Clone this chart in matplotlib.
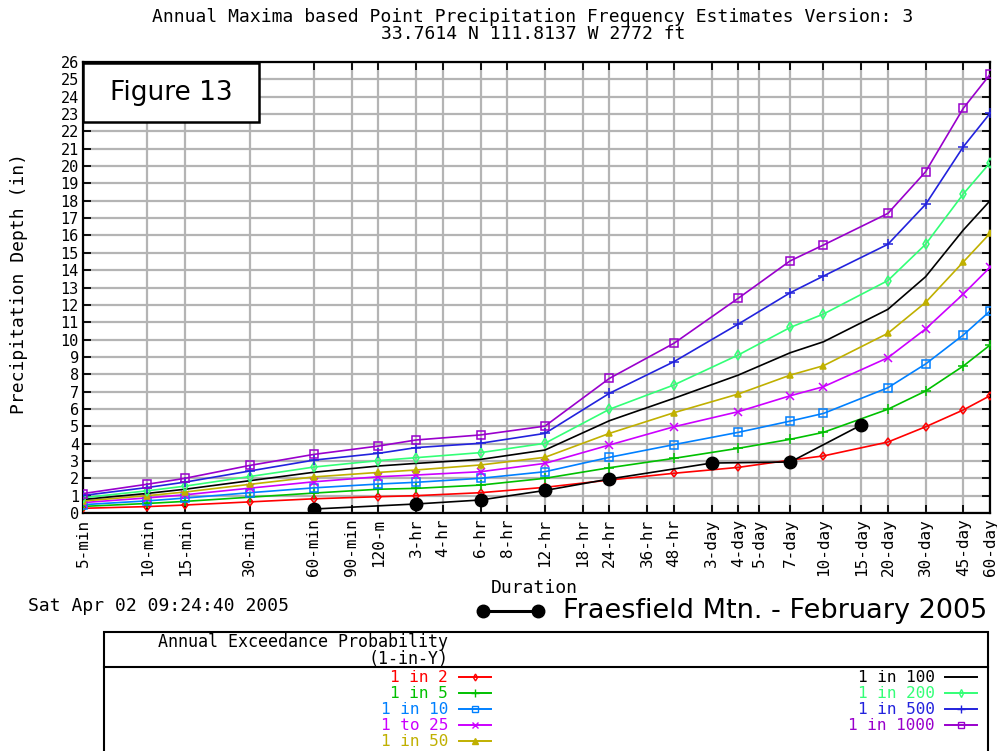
import matplotlib
matplotlib.use("Agg")
import matplotlib.pyplot as plt
from matplotlib.lines import Line2D
from matplotlib.patches import Rectangle

# ---------------- data ----------------
dur_minutes = [5, 10, 15, 30, 60, 120, 180, 360, 720, 1440,
               2880, 5760, 10080, 14400, 28800, 43200, 64800, 86400]

tick_minutes = [5, 10, 15, 30, 60, 90, 120, 180, 240, 360, 480, 720, 1080, 1440,
                2160, 2880, 4320, 5760, 7200, 10080, 14400, 21600, 28800, 43200,
                64800, 86400]
tick_labels = ["5-min", "10-min", "15-min", "30-min", "60-min", "90-min", "120-m",
               "3-hr", "4-hr", "6-hr", "8-hr", "12-hr", "18-hr", "24-hr", "36-hr",
               "48-hr", "3-day", "4-day", "5-day", "7-day", "10-day", "15-day",
               "20-day", "30-day", "45-day", "60-day"]

series_names = ["1 in 2", "1 in 5", "1 in 10", "1 to 25", "1 in 50",
                "1 in 100", "1 in 200", "1 in 500", "1 in 1000"]

p2 = [0.27, 0.37, 0.46, 0.64, 0.82, 0.94, 1.00, 1.17, 1.48, 1.90,
      2.29, 2.63, 3.05, 3.29, 4.09, 4.97, 5.94, 6.76]
p5 = [0.38, 0.55, 0.67, 0.91, 1.15, 1.37, 1.42, 1.61, 2.00, 2.61,
      3.15, 3.73, 4.25, 4.65, 5.98, 7.03, 8.47, 9.68]
p10 = [0.48, 0.70, 0.86, 1.17, 1.45, 1.67, 1.77, 2.00, 2.38, 3.21,
       3.94, 4.65, 5.30, 5.74, 7.22, 8.59, 10.26, 11.64]
p25 = [0.60, 0.87, 1.05, 1.43, 1.80, 2.09, 2.19, 2.38, 2.86, 3.92,
       4.97, 5.84, 6.76, 7.28, 8.95, 10.61, 12.62, 14.16]
p50 = [0.69, 1.00, 1.21, 1.65, 2.08, 2.34, 2.48, 2.77, 3.21, 4.59,
       5.78, 6.86, 7.95, 8.49, 10.36, 12.14, 14.47, 16.12]
p100 = [0.78, 1.13, 1.37, 1.86, 2.35, 2.71, 2.86, 3.09, 3.63, 5.32,
        6.61, 7.95, 9.24, 9.87, 11.74, 13.62, 16.31, 18.00]
p200 = [0.88, 1.28, 1.55, 2.10, 2.65, 3.02, 3.19, 3.48, 4.02, 5.98,
        7.38, 9.11, 10.70, 11.47, 13.40, 15.49, 18.39, 20.19]
p500 = [1.01, 1.47, 1.78, 2.42, 3.05, 3.44, 3.77, 4.02, 4.59, 6.90,
        8.72, 10.89, 12.70, 13.66, 15.49, 17.79, 21.11, 23.04]
p1000 = [1.12, 1.66, 2.00, 2.74, 3.38, 3.86, 4.21, 4.50, 5.01, 7.76,
         9.78, 12.38, 14.54, 15.45, 17.27, 19.67, 23.33, 25.28]

obs_minutes = [60, 180, 360, 720, 1440, 4320, 10080, 21600]
obs_values = [0.23, 0.52, 0.75, 1.30, 1.96, 2.88, 2.94, 5.07]

series_values = [p2, p5, p10, p25, p50, p100, p200, p500, p1000]
colors = ["#ff0000", "#00c000", "#0080ff", "#cc00ff", "#c0b000",
          "#000000", "#33ff77", "#2222dd", "#9900cc"]
markers = ["d", "+", "s", "x", "^", None, "d", "+", "s"]
msizes = [4.5, 7, 5.5, 6, 5, 0, 5, 7, 6]
fills = ["none", "full", "none", "full", "full", "none", "none", "full", "none"]

# ---------------- figure ----------------
W, H = 997, 751
fig = plt.figure(figsize=(W / 100, H / 100), dpi=100)
fx = lambda px: px / W
fy = lambda py: 1 - py / H

ax = fig.add_axes([fx(83), fy(513), fx(990) - fx(83), fy(62) - fy(513)])
mono = "DejaVu Sans Mono"

for vals, c, m, ms, fs in zip(series_values, colors, markers, msizes, fills):
    ax.plot(dur_minutes, vals, color=c, lw=1.2, marker=m, ms=ms,
            fillstyle=fs, mew=1.1, zorder=3)

ax.plot(obs_minutes, obs_values, color="black", lw=1.2, marker="o", ms=9,
        zorder=4)

ax.set_xscale("log")
ax.set_xlim(5, 86400)
ax.set_ylim(0, 26)
ax.set_xticks(tick_minutes)
ax.set_xticklabels(tick_labels, rotation=90, fontfamily=mono, fontsize=11.5)
ax.xaxis.set_minor_locator(matplotlib.ticker.NullLocator())
ax.set_yticks(range(0, 27))
ax.set_yticklabels([str(v) for v in range(0, 27)], fontfamily=mono, fontsize=11)
ax.tick_params(axis="both", direction="in", length=6, width=1.3,
               top=True, right=True, pad=4)
ax.tick_params(axis="y", pad=3)
ax.grid(True, which="major", color="#b4b4b4", lw=1.6, zorder=1)
ax.set_axisbelow(True)
for s in ax.spines.values():
    s.set_linewidth(1.6)

# titles and axis labels
fig.text(fx(533), fy(17), "Annual Maxima based Point Precipitation Frequency Estimates Version: 3",
         ha="center", va="center", fontfamily=mono, fontsize=13)
fig.text(fx(533), fy(34), "33.7614 N 111.8137 W 2772 ft",
         ha="center", va="center", fontfamily=mono, fontsize=13)
fig.text(fx(19), fy(283), "Precipitation Depth (in)", rotation=90,
         ha="center", va="center", fontfamily=mono, fontsize=13)
fig.text(fx(534), fy(588), "Duration", ha="center", va="center",
         fontfamily=mono, fontsize=13)
fig.text(fx(28), fy(606), "Sat Apr 02 09:24:40 2005", ha="left", va="center",
         fontfamily=mono, fontsize=13)

# Figure 13 box
ax.add_patch(Rectangle((fx(83), fy(122)), fx(259) - fx(83), fy(63) - fy(122),
                       transform=fig.transFigure, facecolor="white",
                       edgecolor="black", lw=1.8, zorder=10))
fig.text(fx(171), fy(93), "Figure 13", ha="center", va="center",
         fontfamily="DejaVu Sans", fontsize=19, zorder=11)

# observed legend
fig.add_artist(Line2D([fx(483), fx(538)], [fy(611), fy(611)], color="black",
                      lw=2.2, marker="o", ms=9, markevery=[0, 1]))
fig.text(fx(563), fy(611), "Fraesfield Mtn. - February 2005", ha="left",
         va="center", fontfamily="DejaVu Sans", fontsize=19.5)

# legend box
fig.add_artist(Rectangle((fx(104), fy(760)), fx(988) - fx(104), fy(632) - fy(760),
                         transform=fig.transFigure, facecolor="none",
                         edgecolor="black", lw=1.5))
fig.add_artist(Line2D([fx(104), fx(988)], [fy(667), fy(667)], color="black", lw=1.5))
fig.text(fx(448), fy(642), "Annual Exceedance Probability", ha="right", va="center",
         fontfamily=mono, fontsize=12)
fig.text(fx(448), fy(659), "(1-in-Y)", ha="right", va="center",
         fontfamily=mono, fontsize=12)

row_y = [677, 693, 709, 725, 741]
for i, (name, c, m, ms, fs) in enumerate(zip(series_names, colors, markers, msizes, fills)):
    if i < 5:
        tx, lx0, lx1, yy = 448, 459, 491, row_y[i]
    else:
        tx, lx0, lx1, yy = 935, 945, 977, row_y[i - 5]
    fig.text(fx(tx), fy(yy), name, ha="right", va="center", color=c,
             fontfamily=mono, fontsize=11.5)
    fig.add_artist(Line2D([fx(lx0), fx((lx0 + lx1) / 2), fx(lx1)], [fy(yy)] * 3,
                          color=c, lw=1.4, marker=m, ms=max(ms - 1, 0),
                          fillstyle=fs, markevery=[1]))

fig.savefig("out.png", dpi=100)
